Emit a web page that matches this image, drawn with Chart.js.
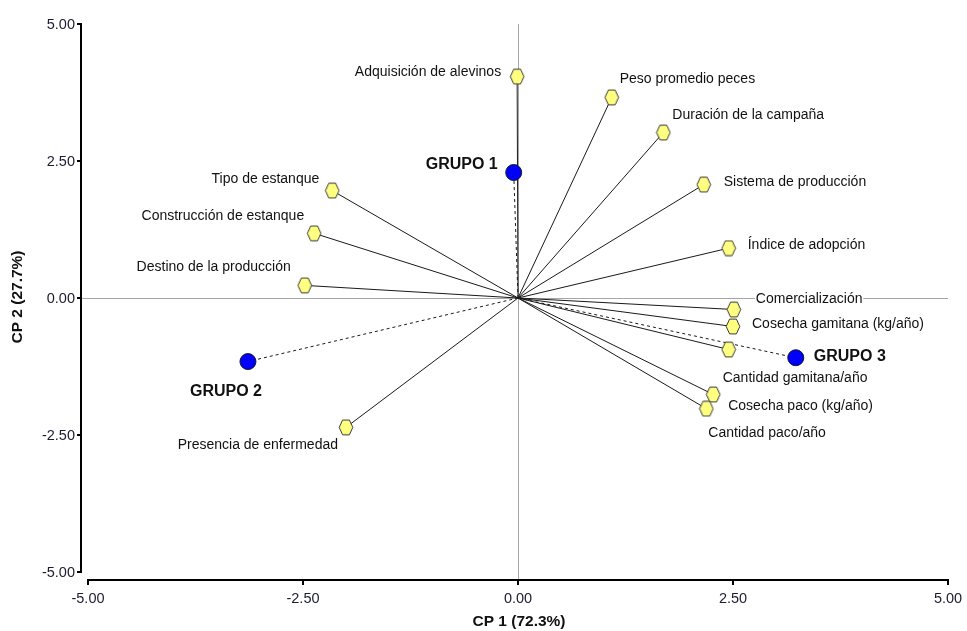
<!DOCTYPE html>
<html>
<head>
<meta charset="utf-8">
<script src="https://cdn.jsdelivr.net/npm/chart.js@4.4.1/dist/chart.umd.min.js"></script>
<style>
  html, body { margin: 0; padding: 0; background: #ffffff; }
  #c { display: block; }
</style>
</head>
<body>
<canvas id="c" width="967" height="631"></canvas>
<script>
// ---------- DATA ----------
const categories = [
  "Adquisición de alevinos",
  "Peso promedio peces",
  "Duración de la campaña",
  "Sistema de producción",
  "Índice de adopción",
  "Comercialización",
  "Cosecha gamitana (kg/año)",
  "Cantidad gamitana/año",
  "Cosecha paco (kg/año)",
  "Cantidad paco/año",
  "Presencia de enfermedad",
  "Destino de la producción",
  "Construcción de estanque",
  "Tipo de estanque"
];
const cp1Values = [-0.01, 1.09, 1.69, 2.16, 2.45, 2.51, 2.50, 2.45, 2.27, 2.19, -2.00, -2.48, -2.37, -2.16];
const cp2Values = [ 4.04, 3.66, 3.02, 2.07, 0.91, -0.21, -0.52, -0.94, -1.76, -2.02, -2.36, 0.23, 1.18, 1.96];

const groupNames = ["GRUPO 1", "GRUPO 2", "GRUPO 3"];
const groupCp1 = [-0.05, -3.14, 3.23];
const groupCp2 = [ 2.29, -1.16, -1.09];

const xTickValues = [-5, -2.5, 0, 2.5, 5];
const xTickLabels = ["-5.00", "-2.50", "0.00", "2.50", "5.00"];
const yTickValues = [-5, -2.5, 0, 2.5, 5];
const yTickLabels = ["-5.00", "-2.50", "0.00", "2.50", "5.00"];

const xTitle = "CP 1 (72.3%)";
const yTitle = "CP 2 (27.7%)";

// label placement (pixel offsets from each marker; styling only)
const varLabelOffsets = [
  [-16, -4, "right"], [8, -18, "left"], [9, -17, "left"], [20, -2, "left"],
  [19, -3, "left"], [22, -10, "left"], [19, -2, "left"], [-6, 29, "left"],
  [15, 12, "left"], [2, 24, "left"], [-8, 18, "right"], [-14, -18, "right"],
  [-10, -17, "right"], [-13, -11, "right"]
];
const groupLabelOffsets = [[-16, -8, "right"], [14, 30, "right"], [18, -1, "left"]];

// ---------- MARKERS ----------
function hexagonImage() {
  const w = 16, h = 17;
  const cv = document.createElement("canvas");
  cv.width = w; cv.height = h;
  const g = cv.getContext("2d");
  const cx = w / 2, cy = h / 2, rw = 6.8, rh = 7.4;
  g.beginPath();
  g.moveTo(cx - rw, cy);
  g.lineTo(cx - rw / 2, cy - rh);
  g.lineTo(cx + rw / 2, cy - rh);
  g.lineTo(cx + rw, cy);
  g.lineTo(cx + rw / 2, cy + rh);
  g.lineTo(cx - rw / 2, cy + rh);
  g.closePath();
  g.fillStyle = "#FFFF80";
  g.fill();
  g.lineWidth = 1;
  g.strokeStyle = "#3a3a3a";
  g.stroke();
  return cv;
}
const hexImg = hexagonImage();

// ---------- DATASETS ----------
const datasets = [];
datasets.push({
  label: "variables",
  type: "scatter",
  data: categories.map((c, i) => ({ x: cp1Values[i], y: cp2Values[i] })),
  pointStyle: hexImg,
  pointRadius: 7,
  order: 0
});
datasets.push({
  label: "grupos",
  type: "scatter",
  data: groupNames.map((c, i) => ({ x: groupCp1[i], y: groupCp2[i] })),
  pointStyle: "circle",
  pointRadius: 8,
  backgroundColor: "#0000FF",
  borderColor: "#1a1a1a",
  borderWidth: 1,
  order: 0
});
categories.forEach((c, i) => {
  datasets.push({
    label: c,
    type: "line",
    data: [{ x: 0, y: 0 }, { x: cp1Values[i], y: cp2Values[i] }],
    borderColor: "#1a1a1a",
    borderWidth: 1,
    pointRadius: 0,
    fill: false,
    tension: 0,
    order: 2
  });
});
groupNames.forEach((c, i) => {
  datasets.push({
    label: c + " línea",
    type: "line",
    data: [{ x: 0, y: 0 }, { x: groupCp1[i], y: groupCp2[i] }],
    borderColor: "#1a1a1a",
    borderWidth: 1,
    borderDash: [3, 3],
    pointRadius: 0,
    fill: false,
    tension: 0,
    order: 1
  });
});

// ---------- PLUGIN: axes, zero lines, labels ----------
const FONT = '"Liberation Sans", Arial, sans-serif';
const biplotPlugin = {
  id: "biplot",
  beforeDraw(chart) {
    const ctx = chart.ctx;
    ctx.save();
    ctx.fillStyle = "#ffffff";
    ctx.fillRect(0, 0, chart.width, chart.height);
    ctx.restore();
  },
  beforeDatasetsDraw(chart) {
    const ctx = chart.ctx;
    const xs = chart.scales.x, ys = chart.scales.y;
    const x0 = xs.getPixelForValue(0), y0 = ys.getPixelForValue(0);
    const top = ys.getPixelForValue(5), bottom = ys.getPixelForValue(-5);
    const left = xs.getPixelForValue(-5), right = xs.getPixelForValue(5);
    const yAxisX = left - 7, xAxisY = bottom + 8;
    ctx.save();
    // zero lines
    ctx.strokeStyle = "#a6a6a6";
    ctx.lineWidth = 1;
    ctx.beginPath();
    ctx.moveTo(Math.round(x0) + 0.5, top);
    ctx.lineTo(Math.round(x0) + 0.5, xAxisY);
    ctx.moveTo(yAxisX, Math.round(y0) + 0.5);
    ctx.lineTo(right, Math.round(y0) + 0.5);
    ctx.stroke();
    // axis lines
    ctx.strokeStyle = "#000000";
    ctx.lineWidth = 2;
    ctx.beginPath();
    ctx.moveTo(yAxisX, top - 1);
    ctx.lineTo(yAxisX, bottom + 1);
    ctx.moveTo(left - 1, xAxisY);
    ctx.lineTo(right + 1, xAxisY);
    ctx.stroke();
    // ticks
    ctx.lineWidth = 2;
    ctx.beginPath();
    yTickValues.forEach(v => {
      const py = Math.round(ys.getPixelForValue(v));
      ctx.moveTo(yAxisX - 4, py);
      ctx.lineTo(yAxisX, py);
    });
    xTickValues.forEach(v => {
      const px = Math.round(xs.getPixelForValue(v));
      ctx.moveTo(px, xAxisY);
      ctx.lineTo(px, xAxisY + 5);
    });
    ctx.stroke();
    // tick labels
    ctx.fillStyle = "#1c1c30";
    ctx.font = "14.5px " + FONT;
    ctx.textBaseline = "middle";
    ctx.textAlign = "right";
    yTickValues.forEach((v, i) => {
      ctx.fillText(yTickLabels[i], yAxisX - 6, ys.getPixelForValue(v) + 1);
    });
    ctx.textAlign = "center";
    xTickValues.forEach((v, i) => {
      ctx.fillText(xTickLabels[i], xs.getPixelForValue(v), xAxisY + 19);
    });
    // titles
    ctx.fillStyle = "#111111";
    ctx.font = "bold 15.5px " + FONT;
    ctx.fillText(xTitle, x0 + 1, xAxisY + 42);
    ctx.translate(18, y0 - 1);
    ctx.rotate(-Math.PI / 2);
    ctx.fillText(yTitle, 0, 0);
    ctx.restore();
  },
  afterDatasetsDraw(chart) {
    const ctx = chart.ctx;
    const xs = chart.scales.x, ys = chart.scales.y;
    ctx.save();
    ctx.textBaseline = "middle";
    ctx.font = "14px " + FONT;
    categories.forEach((c, i) => {
      const px = xs.getPixelForValue(cp1Values[i]);
      const py = ys.getPixelForValue(cp2Values[i]);
      const [dx, dy, al] = varLabelOffsets[i];
      ctx.textAlign = al;
      const w = ctx.measureText(c).width;
      const tx = px + dx, ty = py + dy;
      const lx = al === "right" ? tx - w : tx;
      ctx.fillStyle = "#ffffff";
      ctx.fillRect(lx - 1, ty - 6, w + 2, 12);
      ctx.fillStyle = "#111111";
      ctx.fillText(c, tx, ty);
    });
    ctx.font = "bold 16px " + FONT;
    groupNames.forEach((c, i) => {
      const px = xs.getPixelForValue(groupCp1[i]);
      const py = ys.getPixelForValue(groupCp2[i]);
      const [dx, dy, al] = groupLabelOffsets[i];
      ctx.textAlign = al;
      ctx.fillStyle = "#111111";
      ctx.fillText(c, px + dx, py + dy);
    });
    ctx.restore();
  }
};

new Chart(document.getElementById("c"), {
  type: "scatter",
  data: { datasets },
  options: {
    responsive: false,
    animation: false,
    devicePixelRatio: 1,
    layout: { padding: { left: 88, right: 19, top: 24, bottom: 59 } },
    plugins: { legend: { display: false }, tooltip: { enabled: false } },
    scales: {
      x: { type: "linear", min: -5, max: 5, display: false },
      y: { type: "linear", min: -5, max: 5, display: false }
    }
  },
  plugins: [biplotPlugin]
});
</script>
</body>
</html>
